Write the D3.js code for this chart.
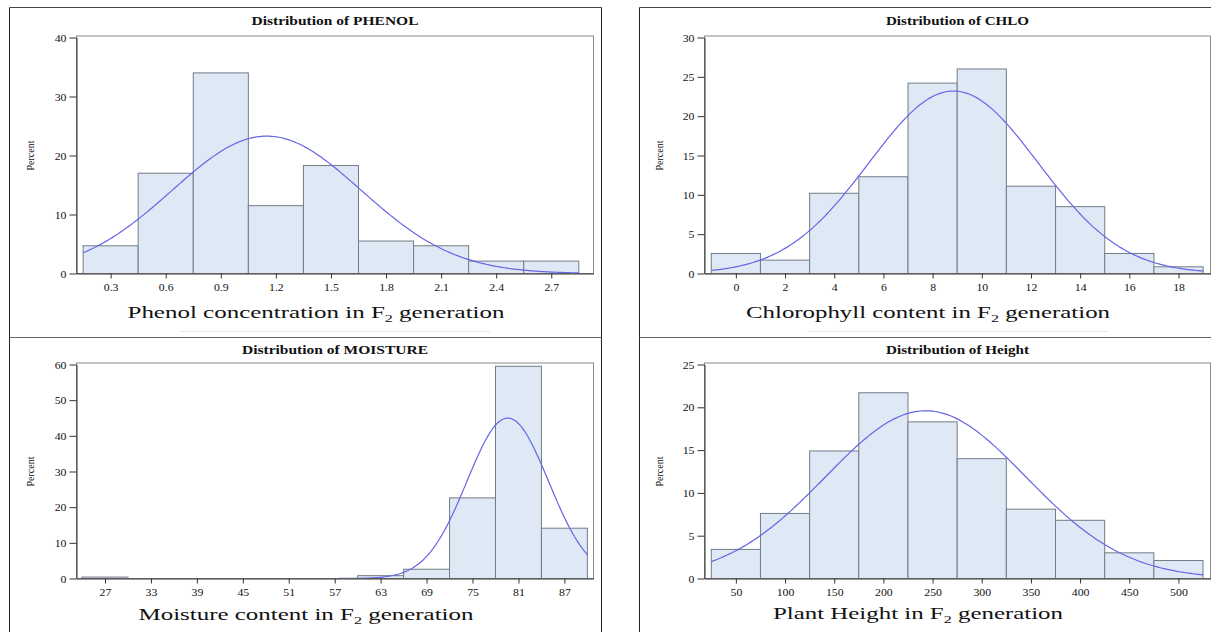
<!DOCTYPE html>
<html>
<head>
<meta charset="utf-8">
<script src="https://cdn.jsdelivr.net/npm/d3@7"></script>
<style>
  body { margin: 0; background: #fff; }
  text { font-family: "Liberation Serif", "Times New Roman", serif; fill: #111; }
</style>
</head>
<body>
<div id="chart"></div>
<script>
// ---- values (percent per bin, bin midpoints, ticks, normal fit) ----
var phenolMids = [0.3, 0.6, 0.9, 1.2, 1.5, 1.8, 2.1, 2.4, 2.7];
var phenolPercent = [4.7, 17.0, 34.0, 11.5, 18.3, 5.5, 4.7, 2.1, 2.1];
var phenolYTicks = [0, 10, 20, 30, 40];
var phenolFit = [1.15, 0.514]; // mean, sd

var chloMids = [0, 2, 4, 6, 8, 10, 12, 14, 16, 18];
var chloPercent = [2.55, 1.7, 10.2, 12.3, 24.2, 26.0, 11.1, 8.5, 2.55, 0.85];
var chloYTicks = [0, 5, 10, 15, 20, 25, 30];
var chloFit = [8.85, 3.44];

var moistureMids = [27, 33, 39, 45, 51, 57, 63, 69, 75, 81, 87];
var moisturePercent = [0.4, 0, 0, 0, 0, 0, 0.8, 2.6, 22.6, 59.5, 14.1];
var moistureYTicks = [0, 10, 20, 30, 40, 50, 60];
var moistureFit = [79.6, 5.32];

var heightMids = [50, 100, 150, 200, 250, 300, 350, 400, 450, 500];
var heightPercent = [3.4, 7.6, 14.9, 21.7, 18.3, 14.0, 8.1, 6.8, 3.0, 2.1];
var heightYTicks = [0, 5, 10, 15, 20, 25];
var heightFit = [243, 101.8];

var svgWidth = 1211;
var svgHeight = 632;

var svg = d3.select("#chart")
  .append("svg")
  .attr("width", svgWidth)
  .attr("height", svgHeight);

// outer panel borders
function line(x1, y1, x2, y2, color) {
  svg.append("line")
    .attr("x1", x1).attr("y1", y1).attr("x2", x2).attr("y2", y2)
    .attr("stroke", color).attr("stroke-width", 1);
}
line(9.5, 7.5, 601.5, 7.5, "#444");
line(9.5, 7.5, 9.5, 632, "#222");
line(601.5, 7.5, 601.5, 632, "#222");
line(639.5, 7.5, 1211, 7.5, "#444");
line(639.5, 7.5, 639.5, 632, "#222");
line(9.5, 337.5, 601.5, 337.5, "#666");
line(639.5, 337.5, 1211, 337.5, "#666");
// faint rules under the top x labels
line(180, 331.5, 490, 331.5, "#e6e6e6");
line(807, 331.5, 1108, 331.5, "#e6e6e6");

function drawPanel(p) {
  var g = svg.append("g");

  var x = d3.scaleLinear().domain(p.xDomain).range([p.left, p.right]);
  var y = d3.scaleLinear().domain([0, d3.max(p.yTicks)]).range([p.bottom, p.top]);

  var bins = p.mids.map(function(m, i) { return { mid: m, pct: p.pct[i] }; });

  // bars
  g.selectAll("rect.bar")
    .data(bins)
    .enter()
    .append("rect")
    .attr("class", "bar")
    .attr("x", d => x(d.mid - p.bw / 2))
    .attr("width", d => x(d.mid + p.bw / 2) - x(d.mid - p.bw / 2))
    .attr("y", d => y(d.pct))
    .attr("height", d => p.bottom - y(d.pct))
    .attr("fill", "#dfe9f6")
    .attr("stroke", "#737c86")
    .attr("stroke-width", 1);

  // fitted normal curve, scaled to percent per bin
  var lo = p.mids[0] - p.bw / 2;
  var hi = p.mids[p.mids.length - 1] + p.bw / 2;
  var mu = p.fit[0], sd = p.fit[1];
  var pts = d3.range(0, 201).map(function(i) {
    var v = lo + (hi - lo) * i / 200;
    var z = (v - mu) / sd;
    return [v, 100 * p.bw * Math.exp(-0.5 * z * z) / (sd * Math.sqrt(2 * Math.PI))];
  });
  g.append("path")
    .datum(pts)
    .attr("fill", "none")
    .attr("stroke", "#6565e6")
    .attr("stroke-width", 1.2)
    .attr("d", d3.line().x(d => x(d[0])).y(d => y(d[1])));

  // frame
  g.append("rect")
    .attr("x", p.left).attr("y", p.top - 1.5)
    .attr("width", p.right - p.left).attr("height", p.bottom - p.top + 1.5)
    .attr("fill", "none").attr("stroke", "#8a8a8a");

  // axes
  var xAxis = g.append("g")
    .attr("transform", `translate(0, ${p.bottom})`)
    .call(d3.axisBottom(x).tickValues(p.mids.filter((m, i) => i % p.tickEvery === 0))
      .tickFormat(p.fmt).tickSize(5).tickSizeOuter(0).tickPadding(5));
  var yAxis = g.append("g")
    .attr("transform", `translate(${p.left}, 0)`)
    .call(d3.axisLeft(y).tickValues(p.yTicks).tickSize(7).tickSizeOuter(0).tickPadding(3));

  [xAxis, yAxis].forEach(function(a) {
    a.attr("font-family", null).attr("font-size", 10);
    a.select(".domain").attr("stroke", "#333");
    a.selectAll(".tick line").attr("stroke", "#333");
    a.selectAll(".tick text").attr("fill", "#222").attr("transform", "scale(1.18,1)");
  });
  yAxis.selectAll(".tick text").attr("x", -8.5).attr("dy", "0.35em");

  // title
  g.append("text")
    .attr("x", (p.left + p.right) / 2)
    .attr("y", p.titleY)
    .attr("text-anchor", "middle")
    .attr("font-size", 11.5)
    .attr("font-weight", "bold")
    .attr("textLength", p.titleW)
    .attr("lengthAdjust", "spacingAndGlyphs")
    .text(p.title);

  // y label
  g.append("text")
    .attr("transform", `translate(${p.ylabX}, ${(p.top + p.bottom) / 2}) rotate(-90)`)
    .attr("text-anchor", "middle")
    .attr("font-size", 10)
    .attr("fill", "#222")
    .text("Percent");

  // x label with subscript
  var t = g.append("text")
    .attr("x", p.xlabX)
    .attr("y", p.xlabY)
    .attr("text-anchor", "middle")
    .attr("font-size", 17)
    .attr("textLength", p.xlabW)
    .attr("lengthAdjust", "spacingAndGlyphs");
  t.append("tspan").text(p.xlab[0]);
  t.append("tspan").attr("font-size", 11).attr("dy", 4).text("2");
  t.append("tspan").attr("dy", -4).text(p.xlab[1]);
}

var fmt1 = d3.format(".1f");
var fmt0 = d3.format("d");

drawPanel({
  mids: phenolMids, pct: phenolPercent, bw: 0.3, fit: phenolFit,
  yTicks: phenolYTicks, tickEvery: 1, fmt: fmt1,
  xDomain: [0.114, 2.93],
  left: 76.5, right: 593.5, top: 37.5, bottom: 273.5,
  title: "Distribution of PHENOL", titleY: 25, titleW: 167,
  ylabX: 33.5,
  xlab: ["Phenol concentration in F", " generation"], xlabX: 316, xlabY: 318, xlabW: 377
});

drawPanel({
  mids: chloMids, pct: chloPercent, bw: 2, fit: chloFit,
  yTicks: chloYTicks, tickEvery: 1, fmt: fmt0,
  xDomain: [-1.275, 19.3],
  left: 704.5, right: 1210.5, top: 37.5, bottom: 273.5,
  title: "Distribution of CHLO", titleY: 25, titleW: 143,
  ylabX: 663,
  xlab: ["Chlorophyll content in F", " generation"], xlabX: 928, xlabY: 318, xlabW: 364
});

drawPanel({
  mids: moistureMids, pct: moisturePercent, bw: 6, fit: moistureFit,
  yTicks: moistureYTicks, tickEvery: 1, fmt: fmt0,
  xDomain: [23.28, 90.8],
  left: 76.5, right: 593.5, top: 364.5, bottom: 578.5,
  title: "Distribution of MOISTURE", titleY: 354, titleW: 186,
  ylabX: 33.5,
  xlab: ["Moisture content in F", " generation"], xlabX: 306, xlabY: 620, xlabW: 335
});

drawPanel({
  mids: heightMids, pct: heightPercent, bw: 50, fit: heightFit,
  yTicks: heightYTicks, tickEvery: 1, fmt: fmt0,
  xDomain: [18.1, 532.6],
  left: 704.5, right: 1210.5, top: 364.5, bottom: 578.5,
  title: "Distribution of Height", titleY: 354, titleW: 143,
  ylabX: 663,
  xlab: ["Plant Height in F", " generation"], xlabX: 918, xlabY: 619, xlabW: 290
});
</script>
</body>
</html>
